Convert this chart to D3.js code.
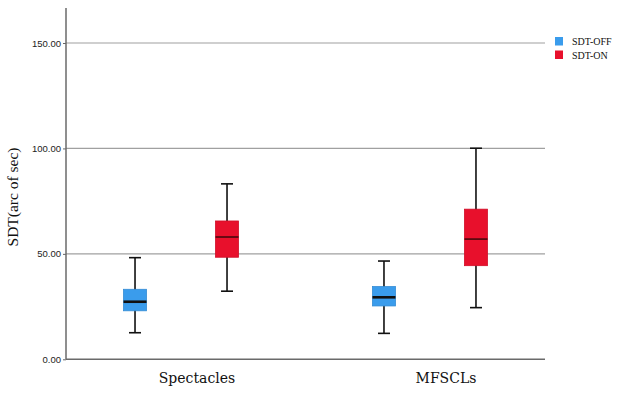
<!DOCTYPE html>
<html>
<head>
<meta charset="utf-8">
<script src="https://cdn.jsdelivr.net/npm/d3@7"></script>
<style>
  body { margin: 0; background: #fff; }
</style>
</head>
<body>
<div id="chart"></div>
<script>
// data
const categories = ["Spectacles", "MFSCLs"];
const series = ["SDT-OFF", "SDT-ON"];
const colors = ["#3a9cec", "#e8102c"];
// [whiskerLow, q1, median, q3, whiskerHigh] per series per category
const offStats = [[12.6, 23.0, 27.3, 33.2, 48.2], [12.3, 25.3, 29.4, 34.5, 46.6]];
const onStats = [[32.3, 48.4, 58.0, 65.6, 83.2], [24.5, 44.4, 57.0, 71.2, 100.1]];
const yTicks = [0, 50, 100, 150];

const width = 624, height = 395;

const svg = d3.select("#chart").append("svg")
    .attr("width", width)
    .attr("height", height);

const x = d3.scalePoint()
    .domain(categories)
    .range([66, 545])
    .padding(0.462);

const xSub = d3.scalePoint()
    .domain(series)
    .range([-46, 46]);

const y = d3.scaleLinear()
    .domain([0, 166.6])
    .range([359.3, 8]);

// grid lines
svg.append("g")
    .selectAll("line")
    .data(yTicks.filter(d => d > 0))
    .enter()
    .append("line")
    .attr("x1", 66)
    .attr("x2", 545)
    .attr("y1", d => y(d))
    .attr("y2", d => y(d))
    .attr("stroke", "#a0a0a0")
    .attr("stroke-width", 1.2);

// y axis
const yAxis = svg.append("g")
    .attr("transform", "translate(66,0)")
    .call(d3.axisLeft(y).tickValues(yTicks).tickFormat(d3.format(".2f")).tickSize(3));
yAxis.select(".domain").remove();
yAxis.selectAll(".tick line").attr("stroke", "#666");
yAxis.selectAll("text")
    .attr("x", -5)
    .style("font-family", "Arial, 'Liberation Sans', sans-serif")
    .style("font-size", "9.5px")
    .attr("fill", "#222");

svg.append("line")
    .attr("x1", 66).attr("x2", 66)
    .attr("y1", y(166.6)).attr("y2", y(0))
    .attr("stroke", "#6a6a6a")
    .attr("stroke-width", 1.5);

svg.append("line")
    .attr("x1", 66).attr("x2", 545)
    .attr("y1", y(0)).attr("y2", y(0))
    .attr("stroke", "#6a6a6a")
    .attr("stroke-width", 1.5);

// y label
svg.append("text")
    .attr("transform", "translate(18," + 197 + ") rotate(-90)")
    .style("text-anchor", "middle")
    .style("font-family", "'Liberation Serif', 'Times New Roman', serif")
    .style("font-size", "15.5px")
    .attr("fill", "#111")
    .text("SDT(arc of sec)");

// x labels
svg.append("g")
    .selectAll("text")
    .data(categories)
    .enter()
    .append("text")
    .attr("x", d => x(d) + 16)
    .attr("y", 383)
    .style("text-anchor", "middle")
    .style("font-family", "'DejaVu Serif', serif")
    .style("font-size", "14px")
    .attr("fill", "#111")
    .text(d => d);

// boxes
const boxW = 23, capW = 12;
const boxData = [];
categories.forEach((c, i) => {
    boxData.push({ cat: c, s: series[0], color: colors[0], st: offStats[i] });
    boxData.push({ cat: c, s: series[1], color: colors[1], st: onStats[i] });
});

const boxes = svg.append("g")
    .selectAll("g")
    .data(boxData)
    .enter()
    .append("g")
    .attr("transform", d => "translate(" + (x(d.cat) + xSub(d.s)) + ",0)");

boxes.append("line")
    .attr("x1", 0).attr("x2", 0)
    .attr("y1", d => y(d.st[0]))
    .attr("y2", d => y(d.st[4]))
    .attr("stroke", "#111")
    .attr("stroke-width", 1.6);

boxes.append("line")
    .attr("x1", -capW / 2).attr("x2", capW / 2)
    .attr("y1", d => y(d.st[4])).attr("y2", d => y(d.st[4]))
    .attr("stroke", "#111")
    .attr("stroke-width", 1.6);

boxes.append("line")
    .attr("x1", -capW / 2).attr("x2", capW / 2)
    .attr("y1", d => y(d.st[0])).attr("y2", d => y(d.st[0]))
    .attr("stroke", "#111")
    .attr("stroke-width", 1.6);

boxes.append("rect")
    .attr("x", -boxW / 2)
    .attr("width", boxW)
    .attr("y", d => y(d.st[3]))
    .attr("height", d => y(d.st[1]) - y(d.st[3]))
    .attr("fill", d => d.color)
    .attr("stroke", d => d3.color(d.color).darker(0.3))
    .attr("stroke-width", 0.8);

boxes.append("line")
    .attr("x1", -boxW / 2).attr("x2", boxW / 2)
    .attr("y1", d => y(d.st[2])).attr("y2", d => y(d.st[2]))
    .attr("stroke", d => d.s === "SDT-OFF" ? "#111" : "#5a0a10")
    .attr("stroke-width", d => d.s === "SDT-OFF" ? 2.6 : 1.8);

// legend
const legend = svg.append("g")
    .attr("transform", "translate(555,37)");

legend.selectAll("rect")
    .data(series)
    .enter()
    .append("rect")
    .attr("x", 0)
    .attr("y", (d, i) => i * 13.5)
    .attr("width", 8)
    .attr("height", 8.5)
    .attr("fill", (d, i) => colors[i]);

legend.selectAll("text")
    .data(series)
    .enter()
    .append("text")
    .attr("x", 17)
    .attr("y", (d, i) => i * 13.5 + 8)
    .style("font-family", "'Liberation Serif', 'Times New Roman', serif")
    .style("font-size", "10px")
    .attr("fill", "#111")
    .text(d => d);
</script>
</body>
</html>
